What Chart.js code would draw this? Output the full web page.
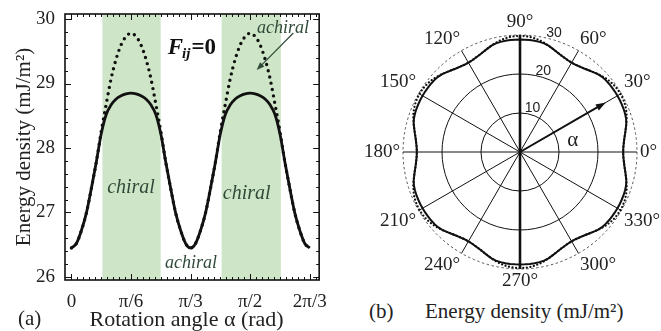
<!DOCTYPE html>
<html>
<head>
<meta charset="utf-8">
<script src="https://cdn.jsdelivr.net/npm/chart.js@4.4.1/dist/chart.umd.min.js"></script>
<style>
html, body { margin: 0; padding: 0; background: #fff; overflow: hidden; }
body { width: 661px; height: 331px; position: relative; font-family: 'Liberation Serif', serif; }
#chartA { position: absolute; left: 0; top: 0; }
#chartB { position: absolute; left: 351px; top: 13px; }
.cap { position: absolute; font-size: 21px; line-height: 21px; color: #222; white-space: nowrap; }
</style>
</head>
<body>
<canvas id="chartA" width="330" height="331"></canvas>
<canvas id="chartB" width="320" height="278"></canvas>
<div class="cap" style="left:18px; top:308px;">(a)</div>
<div class="cap" style="left:369px; top:301px;">(b)</div>
<div class="cap" style="left:425px; top:301px;">Energy density (mJ/m²)</div>
<script>
const serif = "'Liberation Serif', serif";

// rotation angle alpha, in degrees (axis is labelled in fractions of pi)
const alphaDeg = [0, 2.5, 5, 7.5, 10, 12.5, 15, 17.5, 20, 22.5, 25, 27.5, 30, 32.5, 35, 37.5, 40, 42.5, 45, 47.5, 50, 52.5, 55, 57.5, 60,
  62.5, 65, 67.5, 70, 72.5, 75, 77.5, 80, 82.5, 85, 87.5, 90, 92.5, 95, 97.5, 100, 102.5, 105, 107.5, 110, 112.5, 115, 117.5, 120];
// energy density (mJ/m2), solid curve
const chiralE = [26.45, 26.52, 26.72, 26.99, 27.37, 27.78, 28.22, 28.52, 28.67, 28.76, 28.81, 28.84, 28.85, 28.84, 28.81, 28.76, 28.67, 28.52, 28.22, 27.78, 27.37, 26.99, 26.72, 26.52, 26.45,
  26.52, 26.72, 26.99, 27.37, 27.78, 28.22, 28.52, 28.67, 28.76, 28.81, 28.84, 28.85, 28.84, 28.81, 28.76, 28.67, 28.52, 28.22, 27.78, 27.37, 26.99, 26.72, 26.52, 26.45];
// dotted curve (achiral)
const achiralE = [26.45, 26.52, 26.72, 26.99, 27.37, 27.78, 28.26, 28.68, 29.08, 29.38, 29.60, 29.73, 29.78, 29.73, 29.60, 29.38, 29.08, 28.68, 28.26, 27.78, 27.37, 26.99, 26.72, 26.52, 26.45,
  26.52, 26.72, 26.99, 27.37, 27.78, 28.26, 28.68, 29.08, 29.38, 29.60, 29.73, 29.78, 29.73, 29.60, 29.38, 29.08, 28.68, 28.26, 27.78, 27.37, 26.99, 26.72, 26.52, 26.45];
// shaded "chiral" ranges of alpha
const chiralBands = [[15.5, 45], [75.5, 105.5]];

const xTickVals = [0, 30, 60, 90, 120];
const xTickLabels = ['0', 'π/6', 'π/3', 'π/2', '2π/3'];
const yTickVals = [26, 27, 28, 29, 30];
const yMin = 25.953, yMax = 30.078;

const polarTicks = [10, 20, 30];

// ---------- panel (a) ----------
const noteColor = '#2f4a38';
const frameTicks = {
  id: 'frameTicks',
  afterDraw(chart) {
    const { ctx, chartArea: a, scales: { x, y } } = chart;
    const line = (x1, y1, x2, y2) => { ctx.beginPath(); ctx.moveTo(x1, y1); ctx.lineTo(x2, y2); ctx.stroke(); };
    const arrow = (x1, y1, x2, y2, head, w) => {
      const ang = Math.atan2(y2 - y1, x2 - x1);
      line(x1, y1, x2 - Math.cos(ang) * head * 0.7, y2 - Math.sin(ang) * head * 0.7);
      ctx.beginPath();
      ctx.moveTo(x2, y2);
      ctx.lineTo(x2 - head * Math.cos(ang) + w * Math.sin(ang), y2 - head * Math.sin(ang) - w * Math.cos(ang));
      ctx.lineTo(x2 - head * Math.cos(ang) - w * Math.sin(ang), y2 - head * Math.sin(ang) + w * Math.cos(ang));
      ctx.closePath();
      ctx.fill();
    };
    ctx.save();

    // annotations
    ctx.fillStyle = noteColor;
    ctx.textAlign = 'center';
    ctx.textBaseline = 'middle';
    ctx.font = 'italic 18px ' + serif;
    ctx.fillText('achiral', x.getPixelForValue(106.5), y.getPixelForValue(29.853));
    ctx.fillText('achiral', x.getPixelForValue(60.25), y.getPixelForValue(26.217));
    ctx.font = 'italic 20px ' + serif;
    ctx.fillText('chiral', x.getPixelForValue(30), y.getPixelForValue(27.38));
    ctx.fillText('chiral', x.getPixelForValue(88.25), y.getPixelForValue(27.287));
    ctx.strokeStyle = noteColor;
    ctx.lineWidth = 1.2;
    arrow(x.getPixelForValue(111.75), y.getPixelForValue(29.783), x.getPixelForValue(93.25), y.getPixelForValue(29.209), 8, 3);

    // F_ij = 0
    ctx.fillStyle = '#111';
    ctx.textAlign = 'left';
    ctx.textBaseline = 'alphabetic';
    let fx = x.getPixelForValue(48.5);
    const fy = y.getPixelForValue(29.465);
    ctx.font = 'italic bold 23px ' + serif;
    ctx.fillText('F', fx, fy);
    fx += ctx.measureText('F').width - 1;
    ctx.font = 'italic bold 15px ' + serif;
    ctx.fillText('ij', fx, fy + 4);
    fx += ctx.measureText('ij').width + 1;
    ctx.font = 'bold 23px ' + serif;
    ctx.fillText('=0', fx, fy);

    // inward ticks on all four sides
    ctx.strokeStyle = '#111';
    ctx.lineWidth = 1;
    for (let v = 0; v <= 123; v += 3) {
      const px = Math.round(x.getPixelForValue(v)) + 0.5;
      const len = v % 30 === 0 ? 6 : 3;
      line(px, a.bottom, px, a.bottom - len);
      line(px, a.top, px, a.top + len);
    }
    for (let k = 0; k <= 20; k++) {
      const py = Math.round(y.getPixelForValue(26 + k * 0.2)) + 0.5;
      const len = k % 5 === 0 ? 6 : 3;
      line(a.left, py, a.left + len, py);
      line(a.right, py, a.right - len, py);
    }
    ctx.lineWidth = 1.6;
    ctx.strokeRect(a.left, a.top, a.right - a.left, a.bottom - a.top);
    ctx.restore();
  }
};

const pointsOf = ys => alphaDeg.map((a, i) => ({ x: a, y: ys[i] }));

new Chart(document.getElementById('chartA'), {
  type: 'line',
  data: {
    datasets: [
      {
        data: pointsOf(chiralE),
        borderColor: '#111', borderWidth: 2.8, pointRadius: 0,
        cubicInterpolationMode: 'monotone', fill: false
      },
      {
        data: pointsOf(achiralE),
        borderColor: '#111', borderWidth: 3.4, borderDash: [0, 6.4], borderCapStyle: 'round',
        pointRadius: 0, cubicInterpolationMode: 'monotone', fill: false
      },
      ...chiralBands.map(b => ({
        data: [{ x: b[0], y: yMax }, { x: b[1], y: yMax }],
        borderWidth: 0, pointRadius: 0, fill: 'start',
        backgroundColor: 'rgb(206, 229, 199)'
      }))
    ]
  },
  options: {
    responsive: false,
    animation: false,
    layout: { padding: { top: 14, right: 9, left: 0, bottom: 0 } },
    plugins: { legend: { display: false }, tooltip: { enabled: false } },
    scales: {
      x: {
        type: 'linear', min: -3.25, max: 124.75,
        afterBuildTicks: s => { s.ticks = xTickVals.map(v => ({ value: v })); },
        afterFit: s => { s.height = 51; },
        grid: { display: false }, border: { display: false },
        ticks: {
          callback: v => xTickLabels[xTickVals.indexOf(v)],
          font: { family: serif, size: 19 }, color: '#222', padding: 3, maxRotation: 0, autoSkip: false
        },
        title: {
          display: true, text: 'Rotation angle α (rad)\u2002',
          font: { family: serif, size: 22, lineHeight: 1 }, color: '#222', padding: { top: 0, bottom: 0 }
        }
      },
      y: {
        type: 'linear', min: yMin, max: yMax,
        afterBuildTicks: s => { s.ticks = yTickVals.map(v => ({ value: v })); },
        afterFit: s => { s.width = 65; },
        grid: { display: false }, border: { display: false },
        ticks: { font: { family: serif, size: 19 }, color: '#222', padding: 2 },
        title: { display: true, text: 'Energy density (mJ/m²)', font: { family: serif, size: 21 }, color: '#222', padding: { top: 12, bottom: 0 } }
      }
    }
  },
  plugins: [frameTicks]
});

// ---------- panel (b) ----------
// spokes every 2.5 degrees, clockwise from the top (alpha = 90)
const polarAngles = [];
for (let i = 0; i < 144; i++) polarAngles.push(((90 - 2.5 * i) % 360 + 360) % 360);
const polarLabels = polarAngles.map(a => (a % 30 === 0 ? a + '°' : ''));
const fromPeriod = ys => polarAngles.map(a => ys[alphaDeg.indexOf(a % 60)]);

const polarExtras = {
  id: 'polarExtras',
  afterDraw(chart) {
    const r = chart.scales.r;
    const ctx = chart.ctx;
    const at = (deg, v) => {
      const d = r.getDistanceFromCenterForValue(v);
      const t = deg * Math.PI / 180;
      return { x: r.xCenter + d * Math.cos(t), y: r.yCenter - d * Math.sin(t) };
    };
    ctx.save();
    ctx.fillStyle = '#222';
    ctx.textAlign = 'center';
    ctx.textBaseline = 'middle';
    ctx.font = "14px 'Liberation Sans', sans-serif";
    polarTicks.forEach(v => { const p = at(74, v + 1.7); ctx.fillText(String(v), p.x, p.y); });

    // alpha arrow
    const p0 = at(30, 0), p1 = at(30, 25.4);
    const ang = Math.atan2(p1.y - p0.y, p1.x - p0.x);
    const head = 10, w = 3.5;
    ctx.strokeStyle = '#111';
    ctx.fillStyle = '#111';
    ctx.lineWidth = 2;
    ctx.beginPath();
    ctx.moveTo(p0.x, p0.y);
    ctx.lineTo(p1.x - Math.cos(ang) * head * 0.8, p1.y - Math.sin(ang) * head * 0.8);
    ctx.stroke();
    ctx.beginPath();
    ctx.moveTo(p1.x, p1.y);
    ctx.lineTo(p1.x - head * Math.cos(ang) + w * Math.sin(ang), p1.y - head * Math.sin(ang) - w * Math.cos(ang));
    ctx.lineTo(p1.x - head * Math.cos(ang) - w * Math.sin(ang), p1.y - head * Math.sin(ang) + w * Math.cos(ang));
    ctx.closePath();
    ctx.fill();

    ctx.fillStyle = '#222';
    ctx.font = '21px ' + serif;
    const pa = at(12.8, 13.9);
    ctx.fillText('α', pa.x, pa.y);
    ctx.restore();
  }
};

new Chart(document.getElementById('chartB'), {
  type: 'radar',
  data: {
    labels: polarLabels,
    datasets: [
      {
        data: fromPeriod(chiralE),
        borderColor: '#111', borderWidth: 2, pointRadius: 0, fill: false
      },
      {
        data: fromPeriod(achiralE),
        borderColor: '#111', borderWidth: 2.3, borderDash: [0, 3.6], borderCapStyle: 'round',
        pointRadius: 0, fill: false
      }
    ]
  },
  options: {
    responsive: false,
    animation: false,
    plugins: { legend: { display: false }, tooltip: { enabled: false } },
    scales: {
      r: {
        min: 0, max: 30,
        ticks: { display: false, stepSize: 10 },
        grid: {
          circular: true,
          color: c => (c.tick && c.tick.value === 30 ? '#444' : '#111'),
          lineWidth: c => (c.tick && c.tick.value === 30 ? 0.9 : 1)
        },
        border: { dash: c => (c.tick && c.tick.value === 30 ? [2.5, 2.5] : []) },
        angleLines: {
          color: '#111',
          lineWidth: c => (c.label === '' ? 0 : (c.label === '90°' || c.label === '270°' ? 2.6 : 1))
        },
        pointLabels: { font: { family: serif, size: 19, lineHeight: 1 }, color: '#222', padding: 3 }
      }
    }
  },
  plugins: [polarExtras]
});
</script>
</body>
</html>
